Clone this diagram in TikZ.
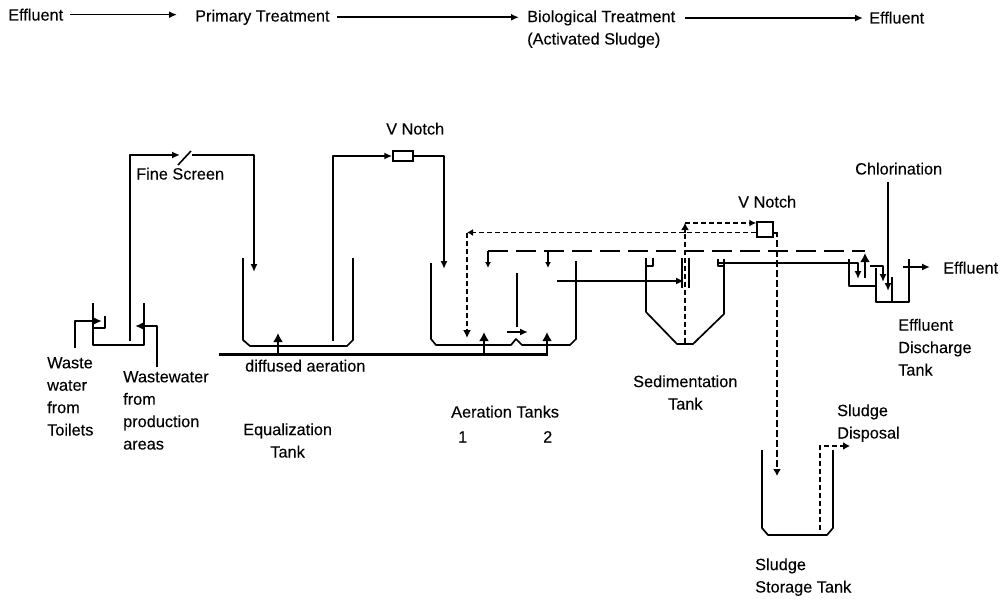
\documentclass[tikz,border=0pt]{standalone}
\usepackage{fontspec}
\setmainfont{Liberation Sans}[FakeBold=0.15]
\usetikzlibrary{arrows.meta}
\tikzset{
  lbl/.style={anchor=base west,yshift=-5.5pt,inner sep=0pt,align=left,font=\fontsize{16.3}{22.4}\selectfont},
  lblc/.style={lbl,align=center},
  wall/.style={line width=1.7pt,line join=round},
  pipe/.style={line width=1.6pt,line join=round},
  flow/.style={pipe,-{Latex[length=8pt,width=7pt]}},
  air/.style={line width=3pt},
  airup/.style={line width=1.8pt,-{Latex[length=9pt,width=10pt]}},
  dshort/.style={line width=1.5pt,dash pattern=on 5pt off 3pt},
  dlong/.style={line width=1.8pt,dash pattern=on 20pt off 8pt},
  notch/.style={draw,line width=1.5pt,fill=white,inner sep=0pt,minimum width=#1},
}
\begin{document}
\begin{tikzpicture}[x=1pt,y=-1pt]
\useasboundingbox (0,0) rectangle (1004,599);
% top flow line
\node[lbl] (t1) at (8,15) {Effluent};
\node[lbl] (t2) at (195,16) {Primary Treatment};
\node[lbl] (t3) at (527,39) {Biological Treatment\\(Activated Sludge)};
\node[lbl] (t4) at (869,18) {Effluent};
\coordinate (t3in) at (519,16);
\coordinate (t3out) at (685,18);
\draw[flow] ([xshift=7pt]t1.east) -- ([xshift=-18pt]t2.west |- t1.east);
\draw[flow] ([xshift=7pt]t2.east) -- (t3in |- t2.east);
\draw[flow] (t3out) -- ([xshift=-6pt]t4.west |- t3out);
% labels
\node[lbl] (fine) at (136,174) {Fine Screen};
\node[lbl] (vn1l) at (386,129) {V Notch};
\node[lbl] (vn2l) at (738,202) {V Notch};
\node[lbl] (chl) at (855,169) {Chlorination};
\node[lbl] (eff) at (943,268) {Effluent};
\node[lbl] (edt) at (898,370) {Effluent\\Discharge\\Tank};
\node[lblc] (sed) at (633,404) {Sedimentation\\Tank};
\node[lbl] (toil) at (47,430) {Waste\\water\\from\\Toilets};
\node[lbl] (prod) at (123,444) {Wastewater\\from\\production\\areas};
\node[lbl] (dif) at (245,366) {diffused aeration};
\node[lblc] (eq) at (243,452) {Equalization\\Tank};
\node[lbl] (aer) at (451,412) {Aeration Tanks};
\node[lbl] (a1) at (458,437) {1};
\node[lbl] (a2) at (543,437) {2};
\node[lbl] (dis) at (837,433) {Sludge\\Disposal};
\node[lbl] (sto) at (755,587) {Sludge\\Storage Tank};
% tanks
\draw[wall] (93,303) -- (93,345) -- (144,345) -- (144,303);
\draw[pipe] (93,328) -- (105,328) -- (105,316);
\draw[wall] (243,258) -- (243,340) -- (250,346) -- (347,346) -- (353,340) -- (353,258);
\draw[wall] (431,263) -- (431,339) -- (436,345) -- (511,345) -- (516,339) -- (522,345) -- (570,345) -- (576,339) -- (576,261);
\draw[wall] (517,273) -- (517,327);
\draw[wall] (653,258) -- (653,266) -- (646,266);
\draw[wall] (646,258) -- (646,312) -- (677,344) -- (693,344) -- (724,314) -- (724,259);
\draw[pipe] (718,259) -- (718,266) -- (724,266);
\draw[pipe] (682,258) -- (682,288) (689,258) -- (689,288);
\draw[wall] (849,259) -- (849,286) -- (876,286);
\draw[wall] (876,268) -- (876,302) -- (909,302) -- (909,259);
\draw[wall] (892,277) -- (892,302);
\draw[wall] (762,450) -- (762,528) -- (768,535) -- (827,535) -- (833,528) -- (833,450);
% notches and screen
\node[notch=20pt,minimum height=10pt] (vn1) at (403,156) {};
\node[notch=16pt,minimum height=15pt] (vn2) at (765,229.5) {};
\coordinate (fs1) at (178,165);
\coordinate (fs2) at (191,151);
\draw[pipe] (fs1) -- (fs2);
% influents
\coordinate (w0) at (75,348); \coordinate (w1) at (102,321);
\coordinate (p0) at (157,367); \coordinate (p1) at (135,326);
\draw[flow] (w0) |- (w1);
\draw[flow] (p0) |- (p1);
% to equalization tank
\coordinate (r0) at (130,341); \coordinate (r1) at (180,155);
\coordinate (r2) at (192,155); \coordinate (r3) at (254,272);
\draw[flow] (r0) |- (r1);
\draw[flow] (r2) -| (r3);
% to aeration tank
\coordinate (e0) at (333,341);
\coordinate (vna) at (444,269);
\draw[flow] (e0) |- (vn1.west);
\draw[flow] (vn1.east) -| (vna);
% diffused aeration
\coordinate (ab0) at (219,354.5); \coordinate (ab1) at (548,354.5);
\coordinate (a1t) at (278,333); \coordinate (a2t) at (484,332); \coordinate (a3t) at (547,332);
\draw[air,line cap=butt] (ab0) -- (ab1);
\draw[airup] (a1t |- ab0) -- (a1t);
\draw[airup] (a2t |- ab0) -- (a2t);
\draw[airup] (a3t |- ab0) -- (a3t);
% inter-tank flow
\coordinate (m0) at (507,332); \coordinate (m1) at (528,332);
\draw[flow] (m0) -- (m1);
\coordinate (s0) at (557,281); \coordinate (s1) at (684,281);
\draw[flow] (s0) -- (s1);
% overflow to discharge tank
\coordinate (o0) at (718,263); \coordinate (o1) at (858,279);
\draw[flow] (o0) -| (o1);
\coordinate (c0) at (870,266); \coordinate (c1) at (883,282);
\draw[flow] (c0) -| (c1);
\coordinate (c2) at (888,182); \coordinate (c3) at (888,291);
\draw[flow] (c2) -- (c3);
\coordinate (x0) at (903,267);
\draw[flow] (x0) -- ([xshift=-13pt]eff.west |- x0);
% long-dash return
\coordinate (l0) at (865,251); \coordinate (l1) at (488,268); \coordinate (l2) at (548,268);
\draw[dlong] (l1 |- l0) -- (l0);
\draw[flow,-{Latex[length=6pt,width=6pt]}] (l1 |- l0) -- (l1);
\draw[flow,-{Latex[length=6pt,width=6pt]}] (l2 |- l0) -- (l2);
\coordinate (l3) at (865,278); \coordinate (l4) at (865,253);
\draw[airup] (l3) -- (l4);
% short-dash loop
\coordinate (d0) at (685,343); \coordinate (d1) at (685,223);
\draw[dshort] (d0) -- (d1);
\coordinate (d4) at (685,233);
\draw[dshort,-{Latex[length=7pt,width=8pt]}] (d4) -- (d1);
\draw[dshort,-{Latex[length=7pt,width=7pt]}] (d1) -- (vn2.west |- d1);
\coordinate (d2) at (467,232.5); \coordinate (d3) at (467,338);
\draw[dshort,-{Latex[length=6pt,width=7pt]}] (vn2.west |- d2) -- (d2);
\draw[dshort,-{Latex[length=8pt,width=8pt]}] (d2) -- (d3);
% to sludge storage
\coordinate (g0) at (777,233); \coordinate (g1) at (777,476);
\draw[dshort,line width=1.7pt,dash pattern=on 7pt off 3pt,-{Latex[length=7pt,width=8pt]}] (vn2.east |- g0) -| (g1);
\coordinate (h0) at (820,530); \coordinate (h1) at (850,446);
\draw[dshort,-{Latex[length=7pt,width=8pt]}] (h0) |- (h1);
\end{tikzpicture}
\end{document}
